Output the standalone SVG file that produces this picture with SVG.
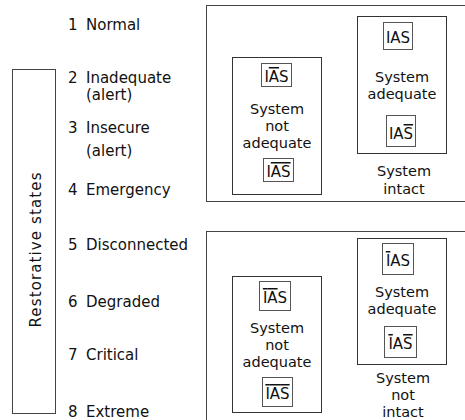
<svg xmlns="http://www.w3.org/2000/svg" width="465" height="420" viewBox="0 0 465 420">
  <style>
    text { font-family: "DejaVu Sans", Verdana, sans-serif; font-size: 15px; fill: #111; }
    .c { text-anchor: middle; }
    .s { font-size: 14.5px; }
    .frame { fill: none; stroke: #444; stroke-width: 1; }
    .box { fill: #fff; stroke: #333; stroke-width: 1; }
    .ias { fill: #fff; stroke: #555; stroke-width: 1; }
    .bar { text-decoration: overline; }
  </style>
  <rect width="465" height="420" fill="#fff"/>

  <!-- vertical caption box -->
  <g id="restorative">
    <rect class="frame" x="12.5" y="69.5" width="43" height="344"/>
    <text class="c" transform="translate(41,250) rotate(-90)" textLength="155" lengthAdjust="spacing">Restorative states</text>
  </g>

  <!-- numbered state list -->
  <g id="states">
    <text x="68" y="30">1</text><text x="86" y="30">Normal</text>
    <text x="68" y="83">2</text><text x="86" y="83">Inadequate</text>
    <text x="86" y="100">(alert)</text>
    <text x="68" y="133">3</text><text x="86" y="133">Insecure</text>
    <text x="86" y="156">(alert)</text>
    <text x="68" y="195">4</text><text x="86" y="195">Emergency</text>
    <text x="68" y="250">5</text><text x="86" y="250">Disconnected</text>
    <text x="68" y="307">6</text><text x="86" y="307">Degraded</text>
    <text x="68" y="360">7</text><text x="86" y="360">Critical</text>
    <text x="68" y="417">8</text><text x="86" y="417">Extreme</text>
  </g>

  <!-- upper panel: system intact -->
  <g id="panel-intact">
    <rect class="frame" x="206.5" y="5.5" width="270" height="196"/>
  </g>
  <g id="intact-not-adequate">
    <rect class="box" x="232.5" y="57.5" width="89" height="137"/>
    <rect class="ias" x="261.5" y="63.5" width="30" height="23"/>
    <text class="c" x="276.5" y="82">I<tspan class="bar">A</tspan>S</text>
    <text class="c s" x="277" y="114">System</text>
    <text class="c s" x="277" y="131">not</text>
    <text class="c s" x="277" y="148">adequate</text>
    <rect class="ias" x="263.5" y="158.5" width="30" height="23"/>
    <text class="c" x="278.5" y="177">I<tspan class="bar">A</tspan><tspan class="bar">S</tspan></text>
  </g>
  <g id="intact-adequate">
    <rect class="box" x="357.5" y="16.5" width="89" height="137"/>
    <rect class="ias" x="383.5" y="22.5" width="29" height="27"/>
    <text class="c" x="398" y="43">IAS</text>
    <text class="c s" x="402" y="82">System</text>
    <text class="c s" x="402" y="99">adequate</text>
    <rect class="ias" x="386.5" y="115.5" width="29" height="31"/>
    <text class="c" x="401" y="139">IA<tspan class="bar">S</tspan></text>
    <text class="c s" x="404" y="176">System</text>
    <text class="c s" x="404" y="194">intact</text>
  </g>

  <!-- lower panel: system not intact -->
  <g id="panel-not-intact">
    <rect class="frame" x="206.5" y="231.5" width="270" height="200"/>
  </g>
  <g id="not-intact-not-adequate">
    <rect class="box" x="232.5" y="276.5" width="89" height="136"/>
    <rect class="ias" x="259.5" y="281.5" width="31" height="29"/>
    <text class="c" x="275" y="303"><tspan class="bar">I</tspan><tspan class="bar">A</tspan>S</text>
    <text class="c s" x="277" y="333">System</text>
    <text class="c s" x="277" y="350">not</text>
    <text class="c s" x="277" y="367">adequate</text>
    <rect class="ias" x="262.5" y="377.5" width="30" height="29"/>
    <text class="c" x="277.5" y="399"><tspan class="bar">I</tspan><tspan class="bar">A</tspan><tspan class="bar">S</tspan></text>
  </g>
  <g id="not-intact-adequate">
    <rect class="box" x="357.5" y="238.5" width="89" height="126"/>
    <rect class="ias" x="382.5" y="243.5" width="31" height="31"/>
    <text class="c" x="398" y="266"><tspan class="bar">I</tspan>AS</text>
    <text class="c s" x="402" y="297">System</text>
    <text class="c s" x="402" y="314">adequate</text>
    <rect class="ias" x="384.5" y="326.5" width="32" height="31"/>
    <text class="c" x="400.5" y="349"><tspan class="bar">I</tspan>A<tspan class="bar">S</tspan></text>
    <text class="c s" x="403" y="383">System</text>
    <text class="c s" x="403" y="400">not</text>
    <text class="c s" x="403" y="417">intact</text>
  </g>

  <g id="connectors"/>
</svg>
